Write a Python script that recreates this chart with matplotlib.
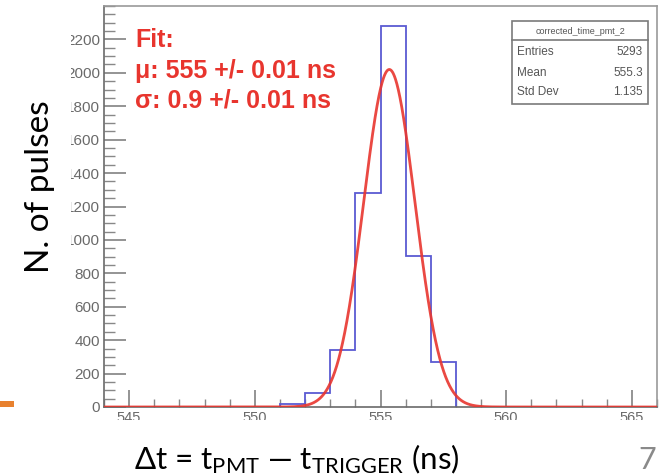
import numpy as np
import matplotlib
matplotlib.use('Agg')
import matplotlib.pyplot as plt
from matplotlib.patches import Rectangle
from matplotlib.lines import Line2D
from matplotlib.ticker import MultipleLocator

# ---------------- data ----------------
bin_edges = [551, 552, 553, 554, 555, 556, 557, 558]
bin_counts = [20, 84, 341, 1281, 2281, 904, 270]
fit_amplitude = 2020
fit_mean = 555.35
fit_sigma = 1.02
x_range = (544, 566)
y_range = (0, 2400)
x_ticks = [545, 550, 555, 560, 565]
y_ticks = [0, 200, 400, 600, 800, 1000, 1200, 1400, 1600, 1800, 2000, 2200]
fit_lines = ["Fit:", "\u03bc: 555 +/- 0.01 ns", "\u03c3: 0.9 +/- 0.01 ns"]
stats_title = "corrected_time_pmt_2"
stats_names = ["Entries", "Mean", "Std Dev"]
stats_values = ["5293", "555.3", "1.135"]
x_label = "\u0394t = t$_{\\mathregular{PMT}}$ \u2014 t$_{\\mathregular{TRIGGER}}$ (ns)"
y_label = "N. of pulses"
page_number = "7"

plt.rcParams['mathtext.fontset'] = 'custom'
plt.rcParams['mathtext.rm'] = 'Lato'
plt.rcParams['mathtext.it'] = 'Lato:italic'
plt.rcParams['mathtext.bf'] = 'Lato:bold'

W, H = 671, 475
fig = plt.figure(figsize=(W / 100, H / 100), dpi=100)


def fx(px):
    return px / W


def fy(py):
    return 1 - py / H


ax = fig.add_axes([fx(104), fy(407), fx(657) - fx(104), fy(6) - fy(407)])
ax.set_xlim(*x_range)
ax.set_ylim(*y_range)

blue = '#5a5ad2'
red = '#e8352e'

ax.stairs(bin_counts, bin_edges, color=blue, lw=1.3, zorder=2)
xs = np.linspace(x_range[0], x_range[1], 2000)
ys = fit_amplitude * np.exp(-0.5 * ((xs - fit_mean) / fit_sigma) ** 2)
ax.plot(xs, ys, color=red, lw=2.0, alpha=0.9, zorder=3, solid_capstyle='butt')

for s in ['left', 'bottom']:
    ax.spines[s].set_color('#6a6a6a')
    ax.spines[s].set_linewidth(1.2)
for s in ['top', 'right']:
    ax.spines[s].set_color('#9a9a9a')
    ax.spines[s].set_linewidth(1.2)

ax.set_xticks(x_ticks)
ax.set_yticks(y_ticks)
ax.xaxis.set_minor_locator(MultipleLocator(1))
ax.yaxis.set_minor_locator(MultipleLocator(50))
ax.tick_params(axis='x', which='major', direction='in', length=12, width=1.1,
               color='#777777', labelsize=10.5, labelcolor='#6a6a6a', pad=3)
ax.tick_params(axis='x', which='minor', direction='in', length=6, width=1.0,
               color='#888888')
ax.tick_params(axis='y', which='major', direction='in', length=16, width=1.1,
               color='#777777', labelsize=11, labelcolor='#6a6a6a', pad=3)
ax.tick_params(axis='y', which='minor', direction='in', length=8, width=1.0,
               color='#888888')
for lab in ax.get_xticklabels() + ax.get_yticklabels():
    lab.set_family('Liberation Sans')

# fit text
fit_y = [47, 78, 107]
for t, yy in zip(fit_lines, fit_y):
    fig.text(fx(135), fy(yy), t, color=red, fontsize=18, fontweight='bold',
             family='Liberation Sans', va='baseline', ha='left', zorder=4)

# stats box
bx0, bx1, by0, by1 = 512, 648, 21, 104
fig.add_artist(Rectangle((fx(bx0), fy(by1)), fx(bx1) - fx(bx0), fy(by0) - fy(by1),
                         transform=fig.transFigure, facecolor='white',
                         edgecolor='#7a7a7a', lw=1.2, zorder=2))
fig.add_artist(Line2D([fx(bx0), fx(bx1)], [fy(40), fy(40)], transform=fig.transFigure,
                      color='#7a7a7a', lw=1.2, zorder=2))
fig.text(fx((bx0 + bx1) / 2), fy(31), stats_title, fontsize=6.5, color='#555555',
         family='Liberation Sans', ha='center', va='center', zorder=4)
for n, v, yy in zip(stats_names, stats_values, [52, 73, 92]):
    fig.text(fx(517), fy(yy), n, fontsize=8.5, color='#555555',
             family='Liberation Sans', ha='left', va='center', zorder=4)
    fig.text(fx(643), fy(yy), v, fontsize=8.5, color='#555555',
             family='Liberation Sans', ha='right', va='center', zorder=4)

# cropping of the embedded plot image (white masks)
fig.add_artist(Rectangle((0, fy(415)), fx(71), 1 - fy(415), transform=fig.transFigure,
                         facecolor='white', edgecolor='none', zorder=1))
fig.add_artist(Rectangle((fx(60), fy(440)), 1 - fx(60), fy(420) - fy(440),
                         transform=fig.transFigure, facecolor='white',
                         edgecolor='none', zorder=1))

# orange slide accent
fig.add_artist(Rectangle((0, fy(407)), fx(14), fy(401) - fy(407), transform=fig.transFigure,
                         facecolor='#e8812f', edgecolor='none', zorder=2))

# slide labels
fig.text(fx(40), fy(187), y_label, rotation=90, fontsize=24, family='Lato',
         color='black', ha='center', va='center', zorder=3)
fig.text(fx(134), fy(469), x_label, fontsize=22.5, family='Lato',
         color='black', ha='left', va='baseline', zorder=3)
fig.text(fx(647), fy(469), page_number, fontsize=22, family='Lato',
         color='#8a8a8a', ha='center', va='baseline', zorder=3)

fig.savefig('out.png', dpi=100)
